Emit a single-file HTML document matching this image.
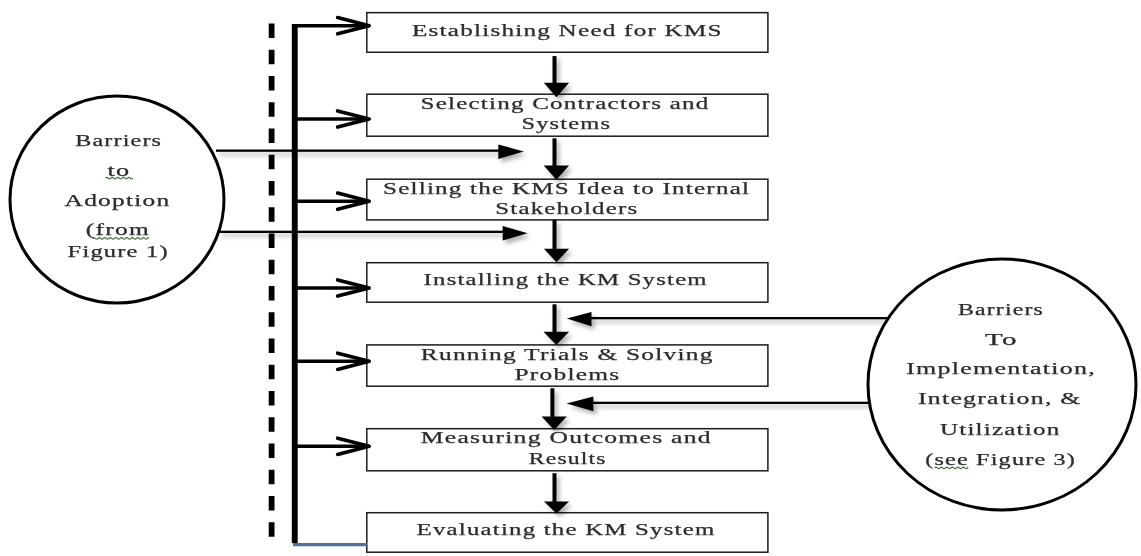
<!DOCTYPE html>
<html><head><meta charset="utf-8">
<style>
html,body{margin:0;padding:0;background:#fff;width:1141px;height:556px;overflow:hidden}
svg{display:block;filter:blur(0.45px)}
text{font-family:"Liberation Serif",serif;font-size:16.2px;fill:#2c2c2c;letter-spacing:0.8px;stroke:#2c2c2c;stroke-width:0.25px}
</style></head><body>
<svg width="1141" height="556" viewBox="0 0 1141 556">
<defs><filter id="sh" x="-20%" y="-50%" width="140%" height="200%"><feDropShadow dx="3" dy="3.5" stdDeviation="2.2" flood-color="#000" flood-opacity="0.3"/></filter></defs>
<!-- boxes -->
<g fill="#fff" stroke="#1c1c1c" stroke-width="1.5">
<rect x="366.8" y="12.65" width="401.1" height="39.60"/>
<rect x="366.8" y="94.2" width="401.1" height="42.00"/>
<rect x="366.8" y="179.2" width="401.1" height="40.70"/>
<rect x="366.8" y="262.7" width="401.1" height="39.50"/>
<rect x="366.8" y="344.9" width="401.1" height="41.30"/>
<rect x="366.8" y="428.7" width="401.1" height="42.10"/>
<rect x="366.8" y="512.7" width="401.1" height="39.50"/>
</g>

<!-- dashed line -->
<line x1="271.6" y1="23.5" x2="271.6" y2="537" stroke="#000" stroke-width="5.8" stroke-dasharray="14.6 11.65"/>
<!-- solid vertical -->
<line x1="294.75" y1="23.9" x2="294.75" y2="543" stroke="#000" stroke-width="5.9"/>

<!-- branch lines + chevrons -->
<g stroke="#000" stroke-width="3.6" fill="none" stroke-linecap="round" stroke-linejoin="round">
<line x1="294.75" y1="25.7" x2="369" y2="25.7" stroke-linecap="butt"/><polyline points="337.6,17.6 369.2,25.7 337.6,33.8"/>
<line x1="294.75" y1="119" x2="369" y2="119" stroke-linecap="butt"/><polyline points="337.6,110.9 369.2,119.0 337.6,127.1"/>
<line x1="294.75" y1="201.2" x2="369" y2="201.2" stroke-linecap="butt"/><polyline points="337.6,193.1 369.2,201.2 337.6,209.3"/>
<line x1="294.75" y1="288" x2="369" y2="288" stroke-linecap="butt"/><polyline points="337.6,279.9 369.2,288.0 337.6,296.1"/>
<line x1="294.75" y1="361.3" x2="369" y2="361.3" stroke-linecap="butt"/><polyline points="337.6,353.2 369.2,361.3 337.6,369.4"/>
<line x1="294.75" y1="446.3" x2="369" y2="446.3" stroke-linecap="butt"/><polyline points="337.6,438.2 369.2,446.3 337.6,454.4"/>
</g>
<line x1="293" y1="544.6" x2="367" y2="544.6" stroke="#4d72a0" stroke-width="3.2"/>

<!-- vertical arrows -->
<g fill="#000" filter="url(#sh)">
<rect x="552.5" y="56.1" width="4" height="27.7"/><polygon points="543.8,82.8 569.1,82.8 556.5,97.2"/>
<rect x="552.5" y="138.3" width="4" height="28.2"/><polygon points="543.7,165.5 569.1,165.5 556.4,179.7"/>
<rect x="552.5" y="220.0" width="4" height="29.7"/><polygon points="543.9,248.7 569.1,248.7 556.5,262.2"/>
<rect x="552.5" y="304.3" width="4" height="28.4"/><polygon points="543.5,331.7 569.1,331.7 556.3,345.0"/>
<rect x="550.4" y="388.3" width="4" height="29.3"/><polygon points="541.6,416.6 566.8,416.6 554.2,429.9"/>
<rect x="552.5" y="473.2" width="4" height="29.3"/><polygon points="543.9,501.5 569.1,501.5 556.5,513.4"/>
</g>

<!-- left ellipse -->
<g fill="#000" filter="url(#sh)">
<rect x="216" y="149.5" width="284" height="2.3"/><polygon points="498.3,144.4 523.8,151.4 498.3,158.9"/>
<rect x="219" y="230.7" width="285" height="2.3"/><polygon points="502.7,226.0 527.6,233.3 502.7,240.6"/>
</g>
<ellipse cx="117" cy="199.5" rx="107" ry="103.5" fill="#fff" stroke="#000" stroke-width="3"/>

<!-- right ellipse -->
<g fill="#000" filter="url(#sh)">
<rect x="589" y="317.0" width="298" height="2.3"/><polygon points="591.5,312 566.8,318.6 591.5,326.2"/>
<rect x="591" y="401.7" width="285" height="2.3"/><polygon points="593.4,396.6 566.6,403.4 593.4,411.2"/>
</g>
<ellipse cx="1002" cy="384.5" rx="134" ry="125.5" fill="#fff" stroke="#000" stroke-width="3"/>

<!-- squiggles -->
<g fill="none" stroke="#44703a" stroke-width="1.2"><path d="M105.5,178.2 Q106.88,176.7 108.25,178.2 Q109.62,179.7 111.00,178.2 Q112.38,176.7 113.75,178.2 Q115.12,179.7 116.50,178.2 Q117.88,176.7 119.25,178.2 Q120.62,179.7 122.00,178.2 Q123.38,176.7 124.75,178.2 Q126.12,179.7 127.50,178.2 Q128.88,176.7 130.25,178.2 Q131.62,179.7 133.00,178.2"/><path d="M92.5,238.3 Q93.88,236.8 95.25,238.3 Q96.62,239.8 98.00,238.3 Q99.38,236.8 100.75,238.3 Q102.12,239.8 103.50,238.3 Q104.88,236.8 106.25,238.3 Q107.62,239.8 109.00,238.3 Q110.38,236.8 111.75,238.3 Q113.12,239.8 114.50,238.3 Q115.88,236.8 117.25,238.3 Q118.62,239.8 120.00,238.3 Q121.38,236.8 122.75,238.3 Q124.12,239.8 125.50,238.3 Q126.88,236.8 128.25,238.3 Q129.62,239.8 131.00,238.3 Q132.38,236.8 133.75,238.3 Q135.12,239.8 136.50,238.3 Q137.88,236.8 139.25,238.3 Q140.62,239.8 142.00,238.3 Q143.38,236.8 144.75,238.3 Q146.12,239.8 147.50,238.3 Q148.25,236.8 149.00,238.3"/><path d="M934.5,467.8 Q935.88,466.3 937.25,467.8 Q938.62,469.3 940.00,467.8 Q941.38,466.3 942.75,467.8 Q944.12,469.3 945.50,467.8 Q946.88,466.3 948.25,467.8 Q949.62,469.3 951.00,467.8 Q952.38,466.3 953.75,467.8 Q955.12,469.3 956.50,467.8 Q957.88,466.3 959.25,467.8 Q960.62,469.3 962.00,467.8 Q963.38,466.3 964.75,467.8 Q966.12,469.3 967.50,467.8 Q967.75,466.3 968.00,467.8"/></g>
<!-- box texts -->
<g text-anchor="start">
<text x="412.0" y="35.5" textLength="310.8" lengthAdjust="spacingAndGlyphs">Establishing Need for KMS</text>
<text x="420.6" y="108.5" textLength="289.0" lengthAdjust="spacingAndGlyphs">Selecting Contractors and</text>
<text x="521.4" y="128.7" textLength="89.9" lengthAdjust="spacingAndGlyphs">Systems</text>
<text x="383.0" y="193.8" textLength="367.2" lengthAdjust="spacingAndGlyphs">Selling the KMS Idea to Internal</text>
<text x="495.2" y="214.2" textLength="143.2" lengthAdjust="spacingAndGlyphs">Stakeholders</text>
<text x="423.6" y="285.4" textLength="284.2" lengthAdjust="spacingAndGlyphs">Installing the KM System</text>
<text x="420.8" y="360.3" textLength="292.9" lengthAdjust="spacingAndGlyphs">Running Trials &amp; Solving</text>
<text x="514.5" y="380.3" textLength="105.9" lengthAdjust="spacingAndGlyphs">Problems</text>
<text x="420.8" y="442.8" textLength="291.1" lengthAdjust="spacingAndGlyphs">Measuring Outcomes and</text>
<text x="528.8" y="463.8" textLength="77.9" lengthAdjust="spacingAndGlyphs">Results</text>
<text x="416.5" y="535.3" textLength="299.0" lengthAdjust="spacingAndGlyphs">Evaluating the KM System</text>
</g>

<!-- left ellipse text -->
<text x="75.2" y="145.6" textLength="87.0" lengthAdjust="spacingAndGlyphs">Barriers</text>
<text x="107.4" y="176.0" textLength="23.0" lengthAdjust="spacingAndGlyphs">to</text>
<text x="64.6" y="205.8" textLength="105.9" lengthAdjust="spacingAndGlyphs">Adoption</text>
<text x="85.8" y="234.6" textLength="64.1" lengthAdjust="spacingAndGlyphs">(from</text>
<text x="67.6" y="257.0" textLength="101.2" lengthAdjust="spacingAndGlyphs">Figure 1)</text>

<!-- right ellipse text -->
<text x="958.0" y="314.8" textLength="86.0" lengthAdjust="spacingAndGlyphs">Barriers</text>
<text x="985.0" y="344.5" textLength="33.0" lengthAdjust="spacingAndGlyphs">To</text>
<text x="906.2" y="374" textLength="189.8" lengthAdjust="spacingAndGlyphs">Implementation,</text>
<text x="918.0" y="403.8" textLength="163.6" lengthAdjust="spacingAndGlyphs">Integration, &amp;</text>
<text x="940.0" y="434.7" textLength="120.4" lengthAdjust="spacingAndGlyphs">Utilization</text>
<text x="925.2" y="465.0" textLength="150.9" lengthAdjust="spacingAndGlyphs">(see Figure 3)</text>
</svg>
</body></html>
